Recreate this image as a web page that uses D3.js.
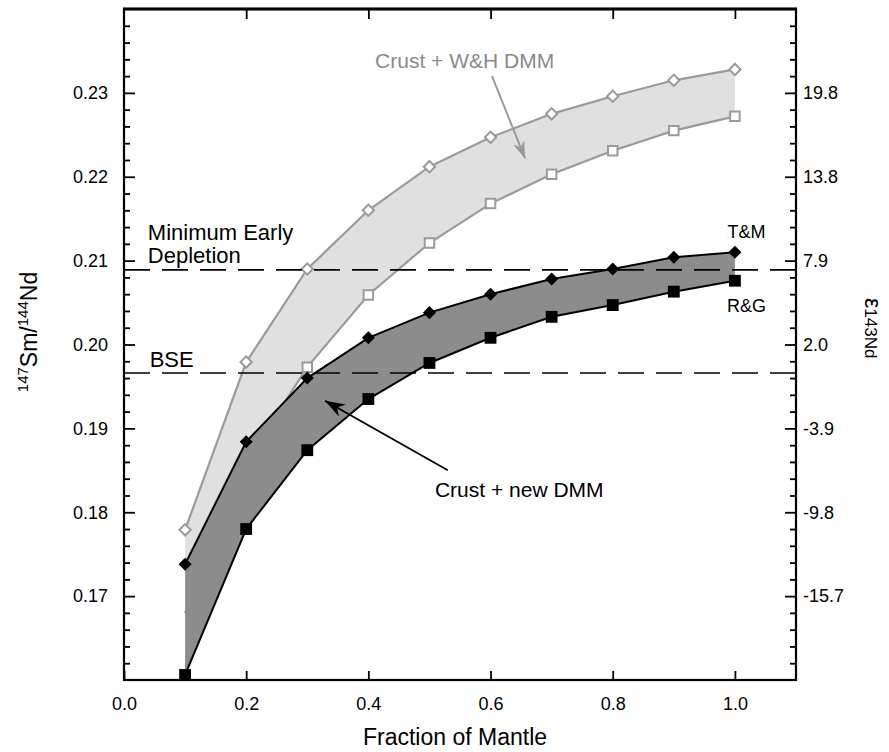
<!DOCTYPE html>
<html>
<head>
<meta charset="utf-8">
<script src="https://cdn.jsdelivr.net/npm/d3@7"></script>
<style>
  body { margin: 0; background: #fff; }
  svg text { font-family: "Liberation Sans", Arial, Helvetica, sans-serif; }
</style>
</head>
<body>
<div id="chart"></div>
<script>
// fraction of mantle (x) and 147Sm/144Nd values
const fractions = [0.1, 0.2, 0.3, 0.4, 0.5, 0.6, 0.7, 0.8, 0.9, 1.0];
const whUpper = [0.1779, 0.1979, 0.2090, 0.2160, 0.2212, 0.2247, 0.2275, 0.2296, 0.2315, 0.2328]; // open diamonds
const whLower = [0.1680, 0.1860, 0.1973, 0.2059, 0.2121, 0.2168, 0.2203, 0.2231, 0.2255, 0.2272]; // open squares
const tmUpper = [0.1738, 0.1884, 0.1960, 0.2008, 0.2038, 0.2060, 0.2078, 0.2090, 0.2104, 0.2110]; // T&M, filled diamonds
const rgLower = [0.1606, 0.1780, 0.1874, 0.1935, 0.1978, 0.2008, 0.2033, 0.2047, 0.2063, 0.2076]; // R&G, filled squares
// first two open squares sit under the dark band
const whLowerVisible = [false, false, true, true, true, true, true, true, true, true];

const xTicks = [0, 0.2, 0.4, 0.6, 0.8, 1.0];
const yTicks = [0.17, 0.18, 0.19, 0.20, 0.21, 0.22, 0.23];
const epsLabels = ["-15.7", "-9.8", "-3.9", "2.0", "7.9", "13.8", "19.8"];
const refLevels = [0.2089, 0.1966]; // minimum early depletion, BSE

const width = 889, height = 752;
const margin = { top: 9, right: 93, bottom: 72, left: 124 };

const svg = d3.select('#chart').append('svg')
  .attr('width', width)
  .attr('height', height);

const x = d3.scaleLinear().domain([0, 1.1]).range([margin.left, width - margin.right]);
const y = d3.scaleLinear().domain([0.16, 0.24]).range([height - margin.bottom, margin.top]);

const rows = fractions.map((f, i) => ({
  f, whU: whUpper[i], whL: whLower[i], tm: tmUpper[i], rg: rgLower[i], vis: whLowerVisible[i]
}));

// arrowheads
const defs = svg.append('defs');
[['arrGray', '#999', 17, 12], ['arrBlack', '#000', 20, 14]].forEach(([id, col, len, w]) => {
  defs.append('marker')
    .attr('id', id)
    .attr('viewBox', `${-len} ${-w / 2} ${len} ${w}`)
    .attr('refX', 0).attr('refY', 0)
    .attr('markerUnits', 'userSpaceOnUse')
    .attr('markerWidth', len).attr('markerHeight', w)
    .attr('orient', 'auto')
    .append('path')
    .attr('d', `M0,0 L${-len},${-w / 2} L${-len * 0.7},0 L${-len},${w / 2} Z`)
    .attr('fill', col);
});

// light band: Crust + W&H DMM
svg.append('path')
  .datum(rows)
  .attr('fill', '#e0e0e0')
  .attr('d', d3.area().x(d => x(d.f)).y0(d => y(d.whL)).y1(d => y(d.whU)));

svg.append('path').datum(rows).attr('fill', 'none').attr('stroke', '#9a9a9a').attr('stroke-width', 2.2)
  .attr('d', d3.line().x(d => x(d.f)).y(d => y(d.whU)));
svg.append('path').datum(rows).attr('fill', 'none').attr('stroke', '#9a9a9a').attr('stroke-width', 2.2)
  .attr('d', d3.line().x(d => x(d.f)).y(d => y(d.whL)));

svg.selectAll('.od').data(rows).enter().append('path')
  .attr('transform', d => `translate(${x(d.f)},${y(d.whU)}) rotate(45)`)
  .attr('d', d3.symbol(d3.symbolSquare, 64)())
  .attr('fill', '#fff').attr('stroke', '#9a9a9a').attr('stroke-width', 2);

svg.selectAll('.os').data(rows.filter(d => d.vis)).enter().append('path')
  .attr('transform', d => `translate(${x(d.f)},${y(d.whL)})`)
  .attr('d', d3.symbol(d3.symbolSquare, 90)())
  .attr('fill', '#fff').attr('stroke', '#9a9a9a').attr('stroke-width', 2);

// dark band: Crust + new DMM
svg.append('path')
  .datum(rows)
  .attr('fill', '#8c8c8c')
  .attr('d', d3.area().x(d => x(d.f)).y0(d => y(d.rg)).y1(d => y(d.tm)));

svg.append('path').datum(rows).attr('fill', 'none').attr('stroke', '#000').attr('stroke-width', 2)
  .attr('d', d3.line().x(d => x(d.f)).y(d => y(d.tm)));
svg.append('path').datum(rows).attr('fill', 'none').attr('stroke', '#000').attr('stroke-width', 2)
  .attr('d', d3.line().x(d => x(d.f)).y(d => y(d.rg)));

svg.selectAll('.fd').data(rows).enter().append('path')
  .attr('transform', d => `translate(${x(d.f)},${y(d.tm)}) rotate(45)`)
  .attr('d', d3.symbol(d3.symbolSquare, 85)())
  .attr('fill', '#000');

svg.selectAll('.fs').data(rows).enter().append('path')
  .attr('transform', d => `translate(${x(d.f)},${y(d.rg)})`)
  .attr('d', d3.symbol(d3.symbolSquare, 140)())
  .attr('fill', '#000');

// dashed reference levels
svg.selectAll('.ref').data(refLevels).enter().append('line')
  .attr('x1', x(0)).attr('x2', x(1.1))
  .attr('y1', d => y(d)).attr('y2', d => y(d))
  .attr('stroke', '#000').attr('stroke-width', 1.6)
  .attr('stroke-dasharray', '26,12');

// annotations (data coordinates)
const txt = (label, fx, fy, size, col) => svg.append('text')
  .attr('x', x(fx)).attr('y', y(fy))
  .attr('font-size', size).attr('fill', col || '#000')
  .text(label);

txt('Crust + W&H DMM', 0.411, 0.2330, 21, '#8a8a8a');
txt('Minimum Early', 0.039, 0.2125, 22);
txt('Depletion', 0.039, 0.2097, 22);
txt('BSE', 0.042, 0.1973, 22);
txt('T&M', 0.988, 0.2127, 18);
txt('R&G', 0.987, 0.2039, 18);
txt('Crust + new DMM', 0.509, 0.1818, 21);

svg.append('line')
  .attr('x1', x(0.6024)).attr('y1', y(0.2320))
  .attr('x2', x(0.6564)).attr('y2', y(0.2222))
  .attr('stroke', '#999').attr('stroke-width', 2)
  .attr('marker-end', 'url(#arrGray)');

svg.append('line')
  .attr('x1', x(0.530)).attr('y1', y(0.1850))
  .attr('x2', x(0.329)).attr('y2', y(0.1933))
  .attr('stroke', '#000').attr('stroke-width', 1.8)
  .attr('marker-end', 'url(#arrBlack)');

// axes
const minor = d3.range(41).map(i => +(0.16 + i * 0.002).toFixed(3))
  .filter(v => v > 0.16 && v < 0.24 && !yTicks.some(t => Math.abs(t - v) < 1e-6));

const styleAxis = g => {
  g.select('.domain').remove();
  g.selectAll('.tick line').attr('stroke', '#000').attr('stroke-width', 1.8);
  g.selectAll('.tick text').attr('font-size', 18).attr('fill', '#000')
    .attr('font-family', '"Liberation Sans", Arial, Helvetica, sans-serif');
};

svg.append('g')
  .attr('transform', `translate(0,${y(0.16)})`)
  .call(d3.axisBottom(x).tickValues(xTicks).tickFormat(d3.format('.1f')).tickSize(-9).tickPadding(17))
  .call(styleAxis);

svg.append('g')
  .attr('transform', `translate(0,${y(0.24)})`)
  .call(d3.axisTop(x).tickValues(xTicks.slice(1)).tickFormat('').tickSize(-10))
  .call(styleAxis);

svg.append('g')
  .attr('transform', `translate(${x(0)},0)`)
  .call(d3.axisLeft(y).tickValues(yTicks).tickFormat(d3.format('.2f')).tickSize(-11).tickPadding(16))
  .call(styleAxis);
svg.append('g')
  .attr('transform', `translate(${x(0)},0)`)
  .call(d3.axisLeft(y).tickValues(minor).tickFormat('').tickSize(-6))
  .call(styleAxis);

svg.append('g')
  .attr('transform', `translate(${x(1.1)},0)`)
  .call(d3.axisRight(y).tickValues(yTicks).tickFormat((d, i) => epsLabels[i]).tickSize(-11).tickPadding(7))
  .call(styleAxis);
svg.append('g')
  .attr('transform', `translate(${x(1.1)},0)`)
  .call(d3.axisRight(y).tickValues(minor).tickFormat('').tickSize(-6))
  .call(styleAxis);

// frame
svg.append('rect')
  .attr('x', x(0)).attr('y', y(0.24))
  .attr('width', x(1.1) - x(0)).attr('height', y(0.16) - y(0.24))
  .attr('fill', 'none').attr('stroke', '#000').attr('stroke-width', 2.2);
svg.append('line')
  .attr('x1', x(0) - 1).attr('x2', x(1.1) + 1)
  .attr('y1', y(0.24)).attr('y2', y(0.24))
  .attr('stroke', '#000').attr('stroke-width', 3);

// axis titles
svg.append('text')
  .attr('x', (x(0) + x(1.1)) / 2 - 5).attr('y', 745)
  .attr('text-anchor', 'middle').attr('font-size', 23)
  .text('Fraction of Mantle');

const yTitle = svg.append('text')
  .attr('transform', `translate(37,332) rotate(-90)`)
  .attr('text-anchor', 'middle').attr('font-size', 23);
yTitle.append('tspan').attr('font-size', 15).attr('dy', -9).text('147');
yTitle.append('tspan').attr('dy', 9).text('Sm/');
yTitle.append('tspan').attr('font-size', 15).attr('dy', -9).text('144');
yTitle.append('tspan').attr('dy', 9).text('Nd');

const eTitle = svg.append('text')
  .attr('transform', `translate(865,298) rotate(90)`)
  .attr('font-size', 17);
eTitle.append('tspan').attr('font-size', 23).text('ε');
eTitle.append('tspan').text('143Nd');
</script>
</body>
</html>
